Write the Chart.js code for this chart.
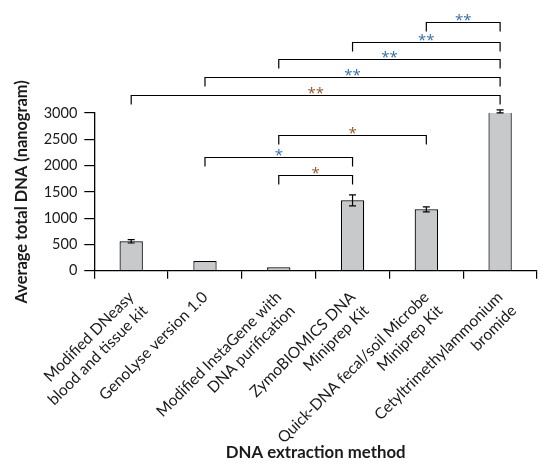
<!DOCTYPE html>
<html>
<head>
<meta charset="utf-8">
<script src="https://cdn.jsdelivr.net/npm/chart.js@4.4.1/dist/chart.umd.min.js"></script>
<style>
  html, body { margin: 0; padding: 0; background: #fff; }
  #wrap { width: 549px; height: 472px; position: relative; }
</style>
</head>
<body>
<div id="wrap"><canvas id="dnaChart"></canvas></div>
<script>
// Data
const methods = [
    ['Modified DNeasy', 'blood and tissue kit'],
    ['GenoLyse version 1.0'],
    ['Modified InstaGene with', 'DNA purification'],
    ['ZymoBIOMICS DNA', 'Miniprep Kit'],
    ['Quick-DNA fecal/soil Microbe', 'Miniprep Kit'],
    ['Cetyltrimethylammonium', 'bromide']
];
const avgDna = [559, 184, 65, 1338, 1167, 3030];
const dnaError = [32, 0, 0, 105, 48, 28];
const yTicks = [0, 500, 1000, 1500, 2000, 2500, 3000];

// significance brackets: bar pairs, bracket height (nanogram units), marker
const bracketFrom  = [4, 3, 2, 1, 0, 2, 1, 2];
const bracketTo    = [5, 5, 5, 5, 5, 4, 3, 3];
const bracketLevel = [4722, 4342, 4019, 3677, 3334, 2574, 2156, 1814];
const bracketStars = ['**', '**', '**', '**', '**', '*', '*', '*'];

const BLUE = '#336fa9';
const BROWN = '#93592a';
const starColors = [BLUE, BLUE, BLUE, BLUE, BROWN, BROWN, BLUE, BROWN];
const FONT = 'Lato, "Open Sans", sans-serif';
const TEXT = '#1a1a1a';

const extras = {
    id: 'extras',
    afterDraw(chart) {
        const { ctx, scales: { x, y } } = chart;
        const bars = chart.getDatasetMeta(0).data;
        ctx.save();
        ctx.strokeStyle = '#000';
        ctx.lineWidth = 1.2;

        // error bars
        bars.forEach((bar, i) => {
            if (!dnaError[i]) return;
            const top = y.getPixelForValue(avgDna[i] + dnaError[i]);
            const bot = y.getPixelForValue(avgDna[i] - dnaError[i]);
            ctx.beginPath();
            ctx.moveTo(bar.x, top); ctx.lineTo(bar.x, bot);
            ctx.moveTo(bar.x - 3.5, top); ctx.lineTo(bar.x + 3.5, top);
            ctx.moveTo(bar.x - 3.5, bot); ctx.lineTo(bar.x + 3.5, bot);
            ctx.stroke();
        });

        // brackets with stars
        ctx.font = '15px "Open Sans", sans-serif';
        ctx.textAlign = 'center';
        ctx.textBaseline = 'alphabetic';
        bracketFrom.forEach((from, i) => {
            const x1 = x.getPixelForValue(from);
            const x2 = x.getPixelForValue(bracketTo[i]);
            const yl = Math.round(y.getPixelForValue(bracketLevel[i])) + 0.5;
            ctx.beginPath();
            ctx.moveTo(x1, yl + 9);
            ctx.lineTo(x1, yl);
            ctx.lineTo(x2, yl);
            ctx.lineTo(x2, yl + 9);
            ctx.stroke();
            ctx.fillStyle = starColors[i];
            ctx.fillText(bracketStars[i], (x1 + x2) / 2, yl + 2);
        });
        ctx.restore();
    }
};

new Chart(document.getElementById('dnaChart'), {
    type: 'bar',
    data: {
        labels: methods,
        datasets: [{
            data: avgDna,
            backgroundColor: '#c8c9cb',
            borderColor: '#000',
            borderWidth: 1.2,
            categoryPercentage: 1,
            barPercentage: 0.316
        }]
    },
    options: {
        responsive: true,
        maintainAspectRatio: false,
        animation: false,
        layout: { padding: { top: 113, right: 12, bottom: 0, left: 0 } },
        plugins: { legend: { display: false }, tooltip: { enabled: false } },
        scales: {
            x: {
                grid: { display: true, drawOnChartArea: false, offset: true, color: '#000', lineWidth: 1.2, tickLength: 8 },
                border: { display: true, color: '#000', width: 1.3 },
                ticks: {
                    autoSkip: false, minRotation: 45, maxRotation: 45, padding: 9,
                    color: TEXT, font: { family: FONT, size: 15.6, lineHeight: 1.24 }
                },
                title: {
                    display: true, text: 'DNA extraction method', color: TEXT,
                    font: { family: FONT, size: 16.8, weight: 'bold' },
                    padding: { top: 0, bottom: 8.9 }
                },
                afterFit: (s) => { s.height = 201.3; s.paddingLeft = 0; s.paddingRight = 0; }
            },
            y: {
                min: 0, max: 3000,
                afterBuildTicks: (s) => { s.ticks = yTicks.map(v => ({ value: v })); },
                grid: { display: true, drawOnChartArea: false, color: '#000', lineWidth: 1.2, tickLength: 10 },
                border: { display: true, color: '#000', width: 1.3 },
                ticks: {
                    padding: 7, color: TEXT, font: { family: FONT, size: 14.5 },
                    callback: (v) => String(v)
                },
                title: {
                    display: true, text: 'Average total DNA (nanogram)', color: TEXT,
                    font: { family: FONT, size: 16.4, weight: 'bold' },
                    padding: { top: 12.1, bottom: 0 }
                },
                afterFit: (s) => { s.width = 94.3; }
            }
        }
    },
    plugins: [extras]
});
</script>
</body>
</html>
